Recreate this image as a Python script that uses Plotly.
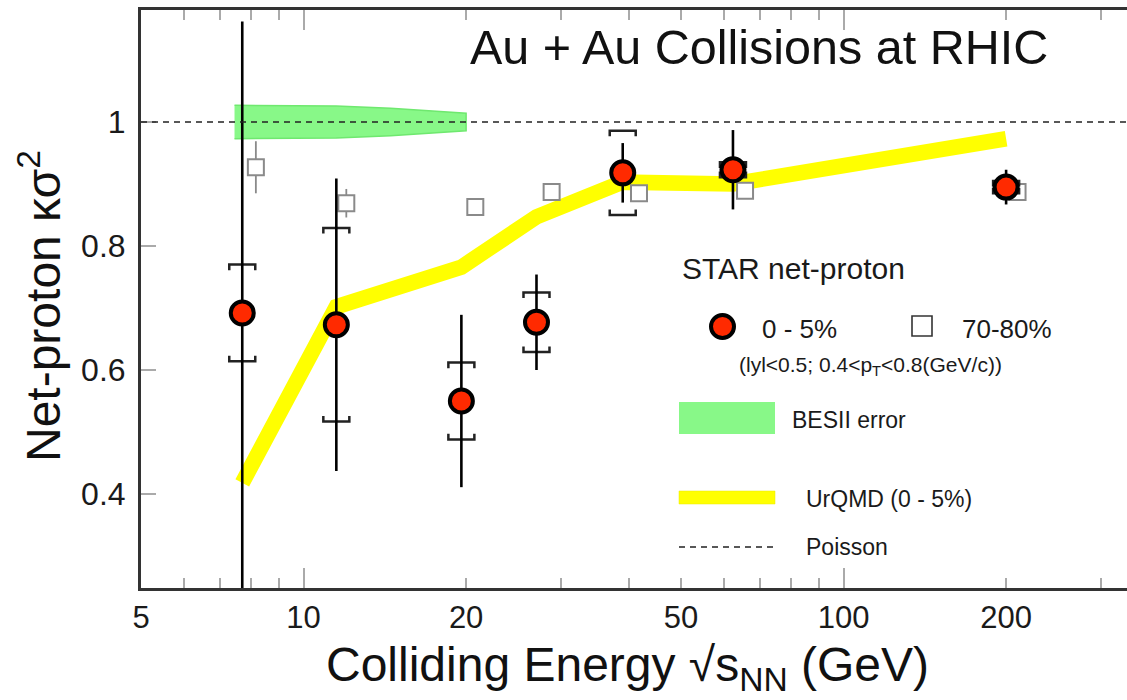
import math
import plotly.graph_objects as go

# ---------------- data ----------------
energy = [7.7, 11.5, 19.6, 27.0, 39.0, 62.4, 200.0]
c05_val = [0.692, 0.673, 0.550, 0.677, 0.918, 0.923, 0.895]
c05_stat = [0.470, 0.236, 0.139, 0.077, 0.048, 0.064, 0.028]
c05_sys = [0.078, 0.156, 0.062, 0.048, 0.068, 0.012, 0.010]

energy_7080 = [8.16, 12.0, 20.8, 28.8, 41.8, 65.7, 210.0]
c7080_val = [0.927, 0.869, 0.863, 0.887, 0.885, 0.889, 0.887]
c7080_err = [0.042, 0.023, 0.008, 0.008, 0.008, 0.008, 0.008]

urqmd_energy = [7.7, 11.5, 19.6, 27.0, 39.0, 62.4, 200.0]
urqmd_val = [0.418, 0.702, 0.766, 0.847, 0.903, 0.900, 0.973]

besii_energy = [7.45, 11.5, 14.5, 20.0]
besii_err = [0.027, 0.026, 0.022, 0.014]

POISSON = 1.0

x_tickvals = [5, 10, 20, 50, 100, 200]
x_ticktext = ["5", "10", "20", "50", "100", "200"]
x_minor = [6, 7, 8, 9, 30, 40, 60, 70, 80, 90, 300]
x_decades = [10, 100]
y_tickvals = [0.4, 0.6, 0.8, 1.0]
y_ticktext = ["0.4", "0.6", "0.8", "1"]

# ---------------- layout helpers ----------------
FIG_W, FIG_H = 1127, 700
L, T, W, H = 141, 10, 986, 578
X_RANGE = [math.log10(5), math.log10(5) + W / 540.0]
Y_RANGE = [1 - 466 / 620.0, 1 + 112 / 620.0]
FONT = "Liberation Sans, Arial, Helvetica, sans-serif"


def px(xp):
    return (xp - L) / W


def py(yp):
    return (T + H - yp) / H


fig = go.Figure()

# BESII error band
band_x = besii_energy + besii_energy[::-1]
band_y = [POISSON + e for e in besii_err] + [POISSON - e for e in besii_err[::-1]]
fig.add_trace(go.Scatter(x=band_x, y=band_y, fill="toself", fillcolor="#88f888",
                         mode="lines", line=dict(color="#6fe86f", width=1.5),
                         hoverinfo="skip", showlegend=False))

# UrQMD band
fig.add_trace(go.Scatter(x=urqmd_energy, y=urqmd_val, mode="lines",
                         line=dict(color="#ffff00", width=15.5),
                         hoverinfo="skip", showlegend=False))

# 70-80% open squares
fig.add_trace(go.Scatter(x=energy_7080, y=c7080_val, mode="markers",
                         marker=dict(symbol="square", size=16, color="white",
                                     line=dict(width=2, color="#8a8a8a")),
                         error_y=dict(type="data", array=c7080_err, width=0,
                                      thickness=1.8, color="#8a8a8a"),
                         showlegend=False))

# systematic brackets for 0-5%
f = 10 ** (13 / 540.0)
tick = 0.009
bx, by = [], []
for e, v, s in zip(energy, c05_val, c05_sys):
    top, bot = v + s, v - s
    bx += [e / f, e / f, e * f, e * f, None]
    by += [top - tick, top, top, top - tick, None]
    bx += [e / f, e / f, e * f, e * f, None]
    by += [bot + tick, bot, bot, bot + tick, None]
fig.add_trace(go.Scatter(x=bx, y=by, mode="lines",
                         line=dict(color="#222222", width=2.5),
                         hoverinfo="skip", showlegend=False))

# 0-5% red circles with stat errors
fig.add_trace(go.Scatter(x=energy, y=c05_val, mode="markers",
                         marker=dict(symbol="circle", size=23, color="#ff2a00",
                                     line=dict(width=4, color="#000000")),
                         error_y=dict(type="data", array=c05_stat, width=0,
                                      thickness=2.6, color="#000000"),
                         showlegend=False))

# invisible trace for the decade-tick axis
fig.add_trace(go.Scatter(x=energy, y=c05_val, xaxis="x2", mode="markers",
                         marker=dict(opacity=0), hoverinfo="skip", showlegend=False))

# Poisson line
fig.add_shape(type="line", xref="paper", x0=0, x1=1, yref="y", y0=POISSON, y1=POISSON,
              line=dict(color="#222222", width=1.6, dash="6px,5px"), layer="above")

axis_common = dict(showgrid=False, zeroline=False, showline=True, linecolor="#333333",
                   linewidth=3, ticks="inside", tickcolor="#aaaaaa", tickwidth=2)

fig.update_layout(
    width=FIG_W, height=FIG_H,
    margin=dict(l=L, r=FIG_W - L - W, t=T, b=FIG_H - T - H),
    paper_bgcolor="white", plot_bgcolor="white",
    font=dict(family=FONT, color="#1a1a1a"),
    xaxis=dict(type="log", range=X_RANGE, tickvals=x_tickvals, ticktext=x_ticktext,
               ticklen=10, mirror="ticks",
               minor=dict(tickvals=x_minor, ticklen=10, tickcolor="#aaaaaa",
                          tickwidth=2, ticks="inside"),
               tickfont=dict(size=31, family=FONT, color="#1a1a1a"), **axis_common),
    xaxis2=dict(type="log", range=X_RANGE, overlaying="x", side="bottom",
                tickvals=x_decades, showticklabels=False, ticklen=20, mirror="ticks",
                **axis_common),
    yaxis=dict(range=Y_RANGE, tickvals=y_tickvals, ticktext=y_ticktext, ticklen=15,
               mirror=False, ticklabelstandoff=6,
               tickfont=dict(size=32, family=FONT, color="#1a1a1a"), **axis_common),
)

ann = []
ann.append(dict(text="Au + Au Collisions at RHIC", x=px(759), y=py(47),
                xanchor="center", yanchor="middle", font=dict(size=48.5, color="#111111")))
ann.append(dict(text="Colliding Energy \u221as<sub>NN</sub> (GeV)", x=px(627), y=py(668),
                xanchor="center", yanchor="middle", font=dict(size=48, color="#111111")))
ann.append(dict(text="Net-proton \u03ba\u03c3<sup>2</sup>", x=px(40), y=py(306), textangle=-90,
                xanchor="center", yanchor="middle", font=dict(size=48, color="#111111")))
ann.append(dict(text="STAR net-proton", x=px(680), y=py(268), xanchor="left",
                yanchor="middle", font=dict(size=30, color="#1a1a1a")))
ann.append(dict(text="0 - 5%", x=px(760), y=py(329), xanchor="left",
                yanchor="middle", font=dict(size=26, color="#1a1a1a")))
ann.append(dict(text="70-80%", x=px(960), y=py(329), xanchor="left",
                yanchor="middle", font=dict(size=26, color="#1a1a1a")))
ann.append(dict(text="(lyl<0.5; 0.4<p<sub>T</sub><0.8(GeV/c))", x=px(737), y=py(366),
                xanchor="left", yanchor="middle", font=dict(size=21, color="#1a1a1a")))
ann.append(dict(text="BESII error", x=px(790), y=py(420), xanchor="left",
                yanchor="middle", font=dict(size=23, color="#1a1a1a")))
ann.append(dict(text="UrQMD (0 - 5%)", x=px(804), y=py(499), xanchor="left",
                yanchor="middle", font=dict(size=23, color="#1a1a1a")))
ann.append(dict(text="Poisson", x=px(804), y=py(547), xanchor="left",
                yanchor="middle", font=dict(size=23, color="#1a1a1a")))
for a in ann:
    a.update(xref="paper", yref="paper", showarrow=False, font_family=FONT)
fig.update_layout(annotations=ann)

# legend keys
fig.add_shape(type="circle", xref="paper", yref="paper",
              x0=px(711), x1=px(734), y0=py(338), y1=py(315),
              fillcolor="#ff2a00", line=dict(color="#000000", width=4))
fig.add_shape(type="rect", xref="paper", yref="paper",
              x0=px(912), x1=px(932), y0=py(336), y1=py(316),
              fillcolor="white", line=dict(color="#333333", width=1.6))
fig.add_shape(type="rect", xref="paper", yref="paper",
              x0=px(679), x1=px(775), y0=py(434), y1=py(402),
              fillcolor="#88f888", line=dict(color="#88f888", width=0))
fig.add_shape(type="rect", xref="paper", yref="paper",
              x0=px(679), x1=px(775), y0=py(504), y1=py(491),
              fillcolor="#ffff00", line=dict(color="#e8e800", width=0.5))
fig.add_shape(type="line", xref="paper", yref="paper",
              x0=px(679), x1=px(775), y0=py(547), y1=py(547),
              line=dict(color="#222222", width=1.6, dash="6px,5px"))

fig.write_html("out.html")
